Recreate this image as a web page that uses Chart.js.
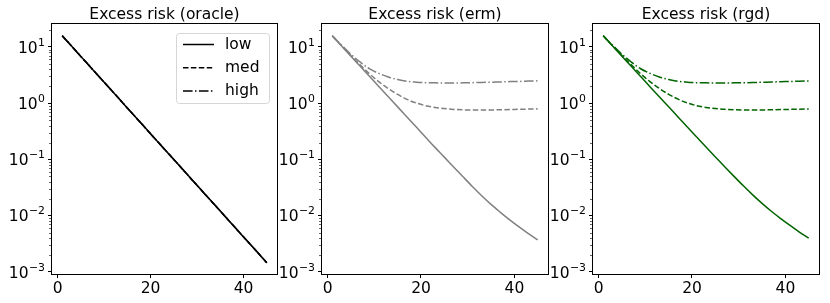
<!DOCTYPE html>
<html>
<head>
<meta charset="utf-8">
<script src="https://cdn.jsdelivr.net/npm/chart.js@4.4.0/dist/chart.umd.min.js"></script>
<style>
  html, body { margin: 0; padding: 0; background: #fff; }
  #wrap { position: relative; width: 830px; height: 303px; overflow: hidden; }
  #wrap canvas { position: absolute; top: 0; }
</style>
</head>
<body>
<div id="wrap">
  <canvas id="c0" width="280" height="303" style="left:0px"></canvas>
  <canvas id="c1" width="280" height="303" style="left:275px"></canvas>
  <canvas id="c2" width="280" height="303" style="left:550px"></canvas>
</div>
<script>
// iterations (x)
const steps = [1, 3, 5, 7, 9, 11, 13, 15, 17, 19, 21, 23, 25, 27, 29, 31, 33, 35, 37, 39, 41, 43, 45];

const titles = ['Excess risk (oracle)', 'Excess risk (erm)', 'Excess risk (rgd)'];
const levels = ['low', 'med', 'high'];

const xTicks = [0, 20, 40];
const yTicks = [1e-3, 1e-2, 1e-1, 1, 10];
const yTickBase = '10';
const yTickExp = ['\u22123', '\u22122', '\u22121', '0', '1'];

// oracle: the three noise levels coincide
const oracleLow  = [15.8, 10.4, 6.8, 4.47, 2.93, 1.92, 1.26, 0.824, 0.541, 0.354, 0.232, 0.152, 0.0998, 0.0655, 0.0429, 0.0281, 0.0184, 0.0121, 0.00792, 0.00519, 0.0034, 0.00223, 0.00146];
const oracleMed  = [15.8, 10.4, 6.8, 4.47, 2.93, 1.92, 1.26, 0.824, 0.541, 0.354, 0.232, 0.152, 0.0998, 0.0655, 0.0429, 0.0281, 0.0184, 0.0121, 0.00792, 0.00519, 0.0034, 0.00223, 0.00146];
const oracleHigh = [15.8, 10.4, 6.8, 4.47, 2.93, 1.92, 1.26, 0.824, 0.541, 0.354, 0.232, 0.152, 0.0998, 0.0655, 0.0429, 0.0281, 0.0184, 0.0121, 0.00792, 0.00519, 0.0034, 0.00223, 0.00146];

const ermLow  = [15.8, 10.4, 6.84, 4.52, 2.99, 1.97, 1.30, 0.861, 0.569, 0.376, 0.248, 0.164, 0.110, 0.0735, 0.0492, 0.0331, 0.0227, 0.0159, 0.0115, 0.00845, 0.00633, 0.00482, 0.00372];
const ermMed  = [15.8, 10.5, 7.0, 4.79, 3.31, 2.40, 1.82, 1.43, 1.17, 1.01, 0.902, 0.841, 0.804, 0.776, 0.762, 0.755, 0.755, 0.759, 0.764, 0.771, 0.780, 0.787, 0.794];
const ermHigh = [15.8, 10.7, 7.41, 5.37, 4.07, 3.39, 2.92, 2.63, 2.45, 2.37, 2.32, 2.30, 2.29, 2.29, 2.30, 2.32, 2.34, 2.36, 2.39, 2.42, 2.44, 2.47, 2.50];

const rgdLow  = [15.8, 10.4, 6.84, 4.52, 2.99, 1.97, 1.30, 0.862, 0.570, 0.378, 0.250, 0.166, 0.111, 0.0742, 0.0500, 0.0340, 0.0235, 0.0166, 0.0120, 0.00890, 0.00672, 0.00513, 0.00398];
const rgdMed  = [15.8, 10.5, 7.02, 4.82, 3.34, 2.42, 1.83, 1.44, 1.18, 1.01, 0.905, 0.843, 0.805, 0.778, 0.764, 0.757, 0.756, 0.759, 0.764, 0.770, 0.778, 0.785, 0.792];
const rgdHigh = [15.8, 10.7, 7.43, 5.40, 4.10, 3.40, 2.93, 2.64, 2.46, 2.37, 2.32, 2.30, 2.29, 2.29, 2.30, 2.31, 2.33, 2.36, 2.38, 2.41, 2.43, 2.46, 2.49];

const FONT = '"DejaVu Sans", sans-serif';
const FS = 15.5;
const dashes = [[], [5.5, 2.4], [9.6, 2.4, 1.5, 2.4]];

const panels = [
  { id: 'c0', title: titles[0], color: '#000000', series: [oracleLow, oracleMed, oracleHigh], axisW: 52, padR: 3, legend: true },
  { id: 'c1', title: titles[1], color: '#808080', series: [ermLow, ermMed, ermHigh], axisW: 47, padR: 7, legend: false },
  { id: 'c2', title: titles[2], color: '#006400', series: [rgdLow, rgdMed, rgdHigh], axisW: 43, padR: 11, legend: false }
];

// title above the axes, centred on the plot area
const axTitle = {
  id: 'axTitle',
  afterDraw(chart, args, opts) {
    const { ctx, chartArea } = chart;
    ctx.save();
    ctx.font = FS + 'px ' + FONT;
    ctx.fillStyle = '#000';
    ctx.textAlign = 'center';
    ctx.textBaseline = 'alphabetic';
    ctx.fillText(opts.text, (chartArea.left + chartArea.right) / 2, chartArea.top - 5.5);
    ctx.restore();
  }
};

// box round the plot area, log minor ticks, and 10^k labels with a raised exponent
const frame = {
  id: 'frame',
  afterDraw(chart) {
    const { ctx, chartArea } = chart;
    const y = chart.scales.y;
    const l = Math.floor(chartArea.left) - 0.5, r = Math.floor(chartArea.right) + 0.5;
    const t = Math.floor(chartArea.top) - 0.5, b = Math.floor(chartArea.bottom) + 0.5;
    ctx.save();
    ctx.strokeStyle = '#000';
    ctx.lineWidth = 1;
    ctx.strokeRect(l, t, r - l, b - t);
    ctx.lineWidth = 0.6;
    ctx.beginPath();
    for (let d = -4; d <= 2; d++) {
      for (let k = 2; k <= 9; k++) {
        const v = k * Math.pow(10, d);
        if (v < y.min || v > y.max) continue;
        const py = Math.round(y.getPixelForValue(v)) + 0.5;
        ctx.moveTo(l, py);
        ctx.lineTo(l - 2.5, py);
      }
    }
    ctx.stroke();

    ctx.fillStyle = '#000';
    ctx.textAlign = 'right';
    ctx.textBaseline = 'alphabetic';
    const xr = chartArea.left - 7;
    yTicks.forEach((v, i) => {
      const py = y.getPixelForValue(v);
      const base = py + 0.36 * FS;
      ctx.font = (FS * 0.7) + 'px ' + FONT;
      const ew = ctx.measureText(yTickExp[i]).width;
      ctx.fillText(yTickExp[i], xr, base - 0.45 * FS);
      ctx.font = FS + 'px ' + FONT;
      ctx.fillText(yTickBase, xr - ew - 0.5, base);
    });
    ctx.restore();
  }
};

// legend drawn inside the upper right corner
const boxLegend = {
  id: 'boxLegend',
  afterDraw(chart, args, opts) {
    if (!opts.show) return;
    const { ctx, chartArea } = chart;
    const w = 93, h = 70;
    const bx = chartArea.right - 8 - w, by = chartArea.top + 9;
    ctx.save();
    ctx.beginPath();
    ctx.roundRect(bx + 0.5, by + 0.5, w, h, 3);
    ctx.fillStyle = 'rgba(255,255,255,0.8)';
    ctx.fill();
    ctx.strokeStyle = '#d6d6d6';
    ctx.lineWidth = 1;
    ctx.stroke();
    ctx.font = FS + 'px ' + FONT;
    ctx.textBaseline = 'middle';
    ctx.textAlign = 'left';
    chart.data.datasets.forEach((ds, i) => {
      const ry = by + 11.5 + i * 23.2;
      ctx.strokeStyle = ds.borderColor;
      ctx.lineWidth = ds.borderWidth;
      ctx.setLineDash(ds.borderDash || []);
      ctx.beginPath();
      ctx.moveTo(bx + 7, ry);
      ctx.lineTo(bx + 38, ry);
      ctx.stroke();
      ctx.setLineDash([]);
      ctx.fillStyle = '#000';
      ctx.fillText(ds.label, bx + 49, ry + 0.5);
    });
    ctx.restore();
  }
};

panels.forEach(p => {
  const datasets = p.series.map((s, i) => ({
    label: levels[i],
    data: s.map((v, j) => ({ x: steps[j], y: v })),
    borderColor: p.color,
    borderWidth: 1.5,
    borderDash: dashes[i],
    borderCapStyle: 'butt',
    pointRadius: 0,
    fill: false,
    cubicInterpolationMode: 'monotone',
    order: 2 - i
  }));

  new Chart(document.getElementById(p.id), {
    type: 'line',
    data: { datasets },
    options: {
      responsive: false,
      animation: false,
      devicePixelRatio: 1,
      layout: { padding: { top: 24, right: p.padR, left: 0, bottom: 0 } },
      plugins: {
        legend: { display: false },
        tooltip: { enabled: false },
        axTitle: { text: p.title },
        boxLegend: { show: p.legend }
      },
      scales: {
        x: {
          type: 'linear',
          min: -1.2,
          max: 47.2,
          afterBuildTicks: s => { s.ticks = xTicks.map(v => ({ value: v })); },
          afterFit: s => { s.height = 29; },
          grid: { drawOnChartArea: false, drawTicks: true, tickLength: 4, color: '#000', lineWidth: 1 },
          border: { display: false },
          ticks: { color: '#000', padding: 2, maxRotation: 0, font: { family: FONT, size: FS }, callback: v => String(v) }
        },
        y: {
          type: 'logarithmic',
          min: 0.00092,
          max: 25.6,
          afterBuildTicks: s => { s.ticks = yTicks.map(v => ({ value: v })); },
          afterFit: s => { s.width = p.axisW; },
          grid: { drawOnChartArea: false, drawTicks: true, tickLength: 4, color: '#000', lineWidth: 1 },
          border: { display: false },
          ticks: { display: false }
        }
      }
    },
    plugins: [axTitle, frame, boxLegend]
  });
});
</script>
</body>
</html>
